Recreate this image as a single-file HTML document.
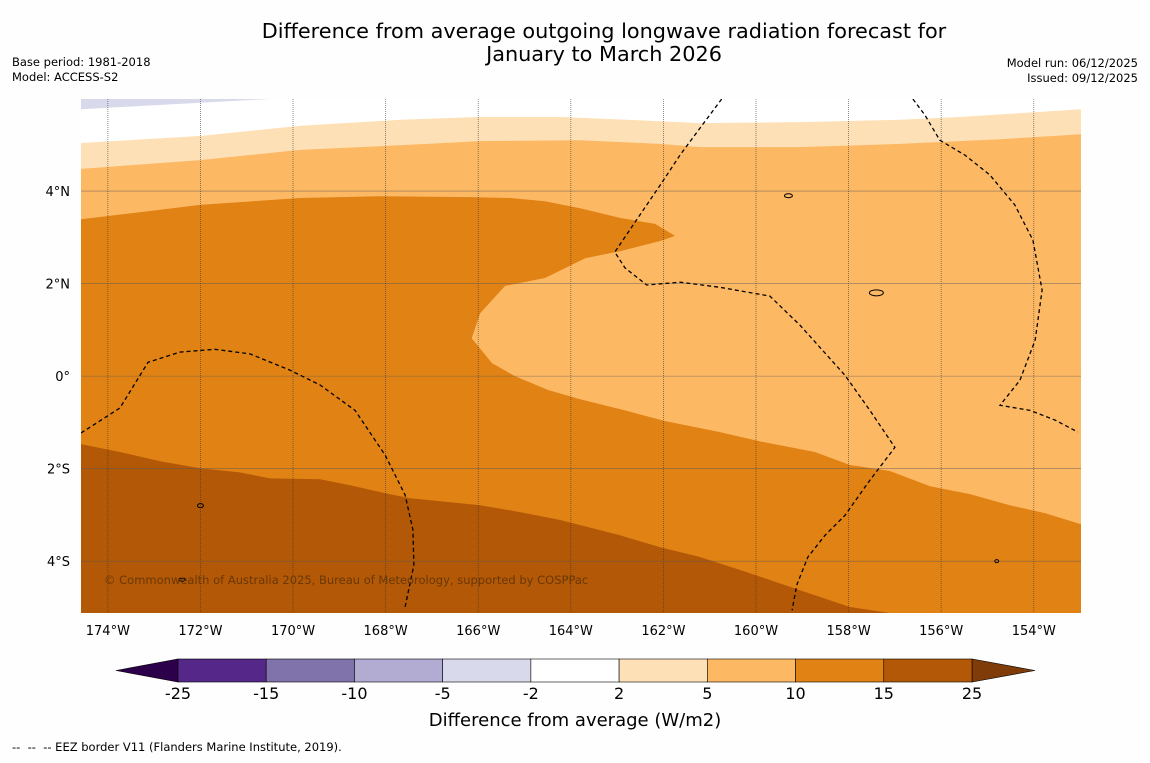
<!DOCTYPE html>
<html><head><meta charset="utf-8">
<style>
html,body{margin:0;padding:0;background:#fff;}
svg text{font-family:"DejaVu Sans","Liberation Sans",sans-serif;}
</style></head>
<body>
<svg id="chart" width="1150" height="758" viewBox="0 0 1150 758" xmlns="http://www.w3.org/2000/svg">
<rect width="1150" height="758" fill="#fefefe"/>
<text x="604" y="38" font-size="20.8" text-anchor="middle" fill="#000">Difference from average outgoing longwave radiation forecast for</text>
<text x="604" y="61" font-size="20.8" text-anchor="middle" fill="#000">January to March 2026</text>
<text x="12" y="66" font-size="11.5">Base period: 1981-2018</text>
<text x="12" y="81" font-size="11.5">Model: ACCESS-S2</text>
<text x="1138" y="67" font-size="11.5" text-anchor="end">Model run: 06/12/2025</text>
<text x="1138" y="82" font-size="11.5" text-anchor="end">Issued: 09/12/2025</text>
<defs><clipPath id="mapclip"><rect x="81" y="99" width="1000" height="514"/></clipPath></defs>
<g id="map" clip-path="url(#mapclip)"></g>
<g id="axes"></g>
<g id="cbar"></g>
<text x="575" y="726" font-size="18" text-anchor="middle">Difference from average (W/m2)</text>
<text x="12" y="751" font-size="11.5" xml:space="preserve">--  --  -- EEZ border V11 (Flanders Marine Institute, 2019).</text>
</svg>
<script>
const lonLeftW = 174.58, lonRightW = 152.98, latTop = 5.99, latBottom = -5.12;
const X0 = 81, X1 = 1081, Y0 = 99, Y1 = 613;
function xs(lonW){ return X0 + (lonLeftW - lonW) / (lonLeftW - lonRightW) * (X1 - X0); }
function ys(lat){ return Y0 + (latTop - lat) / (latTop - latBottom) * (Y1 - Y0); }

const c2Lon = [174.58,172.01,169.85,167.69,165.96,164.23,162.07,161.21,159.05,156.89,155.60,152.98];
const c2Lat = [5.04,5.19,5.41,5.54,5.60,5.60,5.51,5.47,5.49,5.54,5.60,5.77];
const c5Lon = [174.58,172.01,169.85,167.69,165.96,163.80,162.07,161.21,159.05,156.89,154.73,152.98];
const c5Lat = [4.48,4.67,4.89,4.99,5.08,5.10,5.02,4.95,4.95,5.02,5.12,5.23];
const c10Lon = [174.58,173.09,172.01,169.85,168.12,166.18,165.31,164.56,163.80,162.94,162.18,161.75,162.07,162.94,163.69,164.56,165.42,165.96,166.14,165.70,165.21,164.49,163.80,162.83,161.97,160.78,159.91,158.73,157.97,157.11,156.24,155.38,154.52,153.76,152.98];
const c10Lat = [3.39,3.57,3.70,3.85,3.89,3.87,3.85,3.78,3.63,3.42,3.29,3.03,2.92,2.70,2.55,2.12,1.95,1.36,0.82,0.28,0,-0.30,-0.50,-0.74,-0.97,-1.21,-1.41,-1.64,-1.92,-2.05,-2.38,-2.55,-2.79,-2.96,-3.20];
const c15Lon = [174.58,173.74,172.87,172.01,171.15,170.50,169.42,168.77,168.01,167.47,165.96,165.10,164.23,162.94,162.07,161.21,160.13,159.05,157.97,157.11];
const c15Lat = [-1.47,-1.64,-1.84,-1.99,-2.08,-2.21,-2.23,-2.36,-2.53,-2.64,-2.79,-2.94,-3.11,-3.44,-3.70,-3.91,-4.26,-4.63,-4.99,-5.12];
const cNegLon = [174.58,174.00,172.80,170.50,170.50,174.58];
const cNegLat = [5.99,5.99,5.99,5.99,5.99,5.77];

const eezALon = [174.58,173.74,173.13,172.44,171.69,170.93,170.07,169.42,168.66,168.01,167.58,167.41,167.39,167.58];
const eezALat = [-1.23,-0.69,0.30,0.52,0.58,0.48,0.13,-0.19,-0.74,-1.71,-2.57,-3.32,-4.08,-4.99];
const eezBLon = [160.74,161.21,161.64,162.07,162.51,163.05,162.83,162.36,161.64,160.78,159.70,159.05,158.08,157.54,157.00,157.54,158.08,158.51,158.88,159.12,159.22];
const eezBLat = [5.99,5.36,4.78,4.13,3.48,2.68,2.34,1.97,2.03,1.92,1.73,1.10,0.02,-0.74,-1.54,-2.25,-3.01,-3.44,-3.91,-4.52,-5.06];
const eezCLon = [156.61,156.35,156.03,155.49,154.95,154.41,154.02,153.82,153.97,154.30,154.73,154.08,153.54,153.05];
const eezCLat = [5.99,5.64,5.10,4.78,4.35,3.70,2.94,1.86,0.78,-0.09,-0.63,-0.74,-0.95,-1.21];

const lonTicks = [174,172,170,168,166,164,162,160,158,156,154];
const latTicks = [4,2,0,-2,-4];
const latTickLabels = ["4°N","2°N","0°","2°S","4°S"];

const cbLevels = ["-25","-15","-10","-5","-2","2","5","10","15","25"];
const cbColors = ["#542788","#8073ac","#b2abd2","#d8daeb","#ffffff","#fee0b6","#fdb863","#e08214","#b35806"];

const NS = "http://www.w3.org/2000/svg";
function mk(tag, attrs, parent){ const e=document.createElementNS(NS,tag); for(const k in attrs) e.setAttribute(k,attrs[k]); parent.appendChild(e); return e; }
function pts(lons,lats){ return lons.map((l,i)=>xs(l).toFixed(1)+","+ys(lats[i]).toFixed(1)); }

const map = document.getElementById('map');
let r = mk('rect',{x:X0,y:Y0,width:X1-X0,height:Y1-Y0,fill:'#ffffff'},map);


function band(lons,lats,fill,name){
  const p = pts(lons,lats);
  const d = "M"+xs(lonLeftW)+","+(Y1+5)+" L"+p.join(" L")+" L"+xs(lonRightW)+","+(Y1+5)+" Z";
  const e = mk('path',{d:d,fill:fill},map);
  
  
}
band(c2Lon,c2Lat,'#fee0b6','band-2-to-5');
band(c5Lon,c5Lat,'#fdb863','band-5-to-10');
band(c10Lon,c10Lat,'#e08214','band-10-to-15');
{
  const p = pts(c15Lon,c15Lat);
  const d = "M"+p.join(" L")+" L"+xs(lonRightW)+","+(Y1+5)+" L"+xs(lonLeftW)+","+(Y1+5)+" Z";
  const e = mk('path',{d:d,fill:'#b35806'},map);
  
  
}
{
  const e = mk('polygon',{points:pts(cNegLon,cNegLat).join(" "),fill:'#d8daeb'},map);
  
  
}
lonTicks.forEach(l=>{
  const e = mk('line',{x1:xs(l),x2:xs(l),y1:Y0,y2:Y1,stroke:'#333',"stroke-width":0.8,"stroke-dasharray":"1,1","stroke-opacity":0.7},map);
  
  
});
latTicks.forEach(l=>{
  const e = mk('line',{x1:X0,x2:X1,y1:ys(l),y2:ys(l),stroke:'#555',"stroke-width":0.6,"stroke-opacity":0.7},map);
  
  
});
[[eezALon,eezALat],[eezBLon,eezBLat],[eezCLon,eezCLat]].forEach(a=>{
  const e = mk('polyline',{points:pts(a[0],a[1]).join(" "),fill:'none',stroke:'#000',"stroke-width":1.3,"stroke-dasharray":"4,3"},map);
  
  
});
[[159.3,3.9,4,2],[157.4,1.8,7,3],[172.0,-2.8,3,2],[172.4,-4.4,3,1.5],[154.8,-4.0,2,1.5]].forEach(a=>{
  const e = mk('ellipse',{cx:xs(a[0]),cy:ys(a[1]),rx:a[2],ry:a[3],fill:'none',stroke:'#000',"stroke-width":1},map);
  
  
});
{
  const t = mk('text',{x:104,y:584,"font-size":11.5,fill:'#5c3206',"fill-opacity":0.85},map);
  t.textContent = "© Commonwealth of Australia 2025, Bureau of Meteorology, supported by COSPPac";
  
  
}

const axes = document.getElementById('axes');
lonTicks.forEach(l=>{
  const t = mk('text',{x:xs(l),y:635,"font-size":13,"text-anchor":"middle"},axes);
  t.textContent = l+"°W";
  
  
});
latTicks.forEach((l,i)=>{
  const t = mk('text',{x:70,y:ys(l)+5,"font-size":13,"text-anchor":"end"},axes);
  t.textContent = latTickLabels[i];
  
  
});

const cb = document.getElementById('cbar');
const cbX0 = 178, cbX1 = 972, cbY = 659, cbH = 23;
const w = (cbX1-cbX0)/cbColors.length;
{
  const e = mk('polygon',{points:`116,${cbY+cbH/2} ${cbX0},${cbY} ${cbX0},${cbY+cbH}`,fill:'#2d004b',stroke:'#000',"stroke-width":0.6},cb);
  
  
  const f = mk('polygon',{points:`1035,${cbY+cbH/2} ${cbX1},${cbY} ${cbX1},${cbY+cbH}`,fill:'#7f3b08',stroke:'#000',"stroke-width":0.6},cb);
  
  
}
cbColors.forEach((c,i)=>{
  const e = mk('rect',{x:cbX0+i*w,y:cbY,width:w,height:cbH,fill:c,stroke:'#000',"stroke-width":0.6},cb);
  
  
});
cbLevels.forEach((lv,i)=>{
  const t = mk('text',{x:cbX0+i*w,y:699,"font-size":16,"text-anchor":"middle"},cb);
  t.textContent = lv;
  
  
});
</script>
</body></html>
